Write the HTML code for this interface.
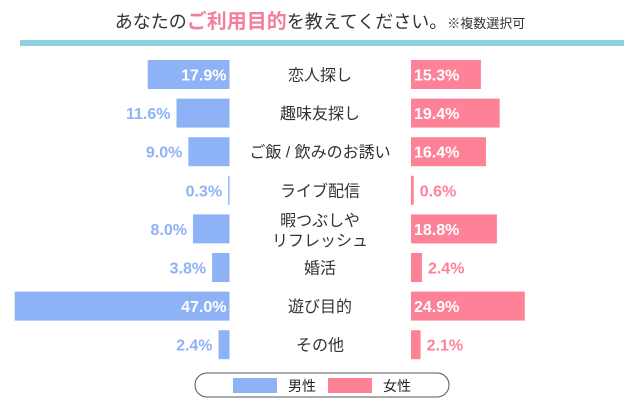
<!DOCTYPE html>
<html><head><meta charset="utf-8"><style>
body{margin:0;background:#fff;width:640px;height:408px;overflow:hidden;font-family:"Liberation Sans","Noto Sans CJK JP",sans-serif}
</style></head><body>
<svg width="640" height="408" style="position:absolute;left:0;top:0">
<text x="320" y="28" text-anchor="middle" font-size="18" fill="#333">あなたの<tspan fill="#f47f98" font-weight="bold" font-size="20">ご利用目的</tspan>を教えてください。<tspan font-size="13">※複数選択可</tspan></text>
<rect x="20" y="40" width="604" height="6" fill="#8fd1dc"/>
<g id="bars"></g>
<rect x="195" y="373" width="254" height="24" rx="12" fill="#fff" stroke="#555" stroke-width="1"/>
<rect x="233" y="378" width="44" height="15" fill="#8db2f6"/>
<text x="288" y="391" font-size="14" fill="#222">男性</text>
<rect x="328" y="378" width="44" height="15" fill="#fd8298"/>
<text x="383" y="391" font-size="14" fill="#222">女性</text>
</svg>
<script>
const categories=[["恋人探し"],["趣味友探し"],["ご飯 / 飲みのお誘い"],["ライブ配信"],["暇つぶしや","リフレッシュ"],["婚活"],["遊び目的"],["その他"]];
const maleValues=[17.9,11.6,9.0,0.3,8.0,3.8,47.0,2.4];
const femaleValues=[15.3,19.4,16.4,0.6,18.8,2.4,24.9,2.1];
const NS="http://www.w3.org/2000/svg";
const g=document.getElementById('bars');
const scale=v=>v*4.57;
const rowY=i=>60+i*38.6;
const BH=29, MX=229.5, FX=411;
function mk(t,a){const e=document.createElementNS(NS,t);for(const k in a)e.setAttribute(k,a[k]);g.appendChild(e);return e;}
categories.forEach((c,i)=>{
 const y=rowY(i);
 const mw=scale(maleValues[i]);
 const mr=mk('rect',{x:MX-mw,y:y,width:mw,height:BH,fill:'#8db2f6'});
 
 
 const mIn=mw>60;
 const mt=mk('text',{x:mIn?MX-3:MX-mw-6,y:y+BH/2+6,'text-anchor':'end','font-size':'16','font-weight':'bold',fill:mIn?'#fff':'#8db2f6'});
 mt.textContent=maleValues[i].toFixed(1)+'%';
 
 
 const fw=scale(femaleValues[i]);
 const fr=mk('rect',{x:FX,y:y,width:fw,height:BH,fill:'#fd8298'});
 
 
 const fIn=fw>60;
 const ft=mk('text',{x:fIn?FX+3:FX+fw+6,y:y+BH/2+6,'font-size':'16','font-weight':'bold',fill:fIn?'#fff':'#fd8298'});
 ft.textContent=femaleValues[i].toFixed(1)+'%';
 
 
 c.forEach((line,j)=>{
  const cy=c.length===1?y+BH/2+6:y+BH/2-3+j*20;
  const ct=mk('text',{x:320,y:cy,'text-anchor':'middle','font-size':'16',fill:'#333'});
  ct.textContent=line;
  
  
 });
});
</script>
</body></html>
